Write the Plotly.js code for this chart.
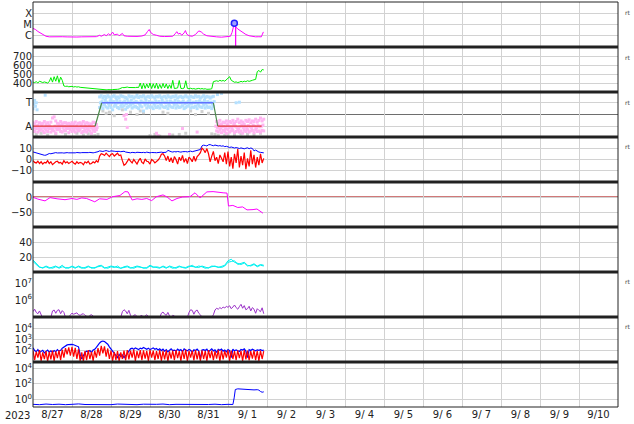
<!DOCTYPE html>
<html><head><meta charset="utf-8">
<script src="https://cdn.plot.ly/plotly-3.0.1.min.js"></script>
<style>html,body{margin:0;padding:0;background:#fff}#chart{width:634px;height:424px}</style>
</head><body><div id="chart"></div>
<script>
// ---------- time bases (hours after 2023-08-27 00:00 UT) ----------
const hours = [0,1,2,3,4,5,6,7,8,9,10,11,12,13,14,15,16,17,18,19,20,21,22,23,24,25,26,27,28,29,30,31,32,33,34,35,36,37,38,39,40,41,42,43,44,45,46,47,48,49,50,51,52,53,54,55,56,57,58,59,60,61,62,63,64,65,66,67,68,69,70,71,72,73,74,75,76,77,78,79,80,81,82,83,84,85,86,87,88,89,90,91,92,93,94,95,96,97,98,99,100,101,102,103,104,105,106,107,108,109,110,111,112,113,114,115,116,117,118,119,120,121,122,123,124,125,126,127,128,129,130,131,132,133,134,135,136,137,138,139,140,141,142];
const hours2 = [0,2,4,6,8,10,12,14,16,18,20,22,24,26,28,30,32,34,36,38,40,42,44,46,48,50,52,54,56,58,60,62,64,66,68,70,72,74,76,78,80,82,84,86,88,90,92,94,96,98,100,102,104,106,108,110,112,114,116,118,120,122,124,126,128,130,132,134,136,138,140,142];

// ---------- axis labels ----------
const xrayTickVals = [1e-6,1e-5,1e-4];
const xrayTickText = ['C','M','X'];
const sectorTickText = ['A','T'];
const dayTickFormat = '%-m/%e';
const yearLabel = '2023';
const sideLabel = 'rt';

// ---------- panel 1: X-ray flux ----------
const xrH = [0,1.5,3,4.5,6,8,10,12,15,18,21,24,27,30,33,36,39,41,42,44,45,46.5,47.5,49,50,52,53,55,56,58,61,64,67,69,70.5,71.5,72.5,74,76,78,81,84,86,87.5,88.5,89.5,90.5,91.5,93,93.8,94.6,96,98,100,102,103.5,105,107,110,113,116,119,121.5,122.5,123.3,123.9,124.6,124.7,124.8,126,127.5,129,131,133,135,137,139,140.5,141.2,141.8];
const xrV = [4.5e-6,3.6e-6,2.4e-6,1.7e-6,1.2e-6,9e-7,8e-7,8.3e-7,7.8e-7,8.2e-7,7.9e-7,8.4e-7,7.7e-7,8e-7,8.5e-7,7.9e-7,8.3e-7,1.1e-6,9e-7,1.3e-6,1.0e-6,1.5e-6,1.1e-6,2.1e-6,1.2e-6,1.4e-6,1.0e-6,1.6e-6,1.0e-6,9e-7,8.5e-7,8.7e-7,9.5e-7,1.2e-6,2.4e-6,3.6e-6,1.9e-6,1.3e-6,1.1e-6,9e-7,8.5e-7,8.3e-7,9e-7,1.5e-6,2.3e-6,1.4e-6,1.7e-6,1.1e-6,1.8e-6,2.9e-6,1.4e-6,1.0e-6,9e-7,1.3e-6,2.7e-6,2.2e-6,1.4e-6,1.0e-6,8.5e-7,8e-7,7.5e-7,7.8e-7,9e-7,2e-6,6e-6,1.26e-5,1.1e-5,3e-8,6e-6,4e-6,2.8e-6,1.9e-6,1.3e-6,1.0e-6,8.5e-7,8e-7,8.2e-7,8e-7,1.4e-6,2.2e-6];
const flareH = [123.9];
const flareV = [1.26e-5];

// ---------- panel 2: solar wind speed ----------
const speed = [410,405,415,400,420,410,405,412,408,400,415,
 460,410,470,420,480,405,465,430,
 367,362,365,358,360,363,356,360,355,358,
 352,350,348,345,343,340,338,336,334,333,332,330,
 328,326,325,327,324,326,323,325,327,326,328,330,333,
 345,350,348,352,355,350,348,353,351,349,352,350,
 400,335,395,340,390,345,400,338,392,342,398,336,385,340,395,345,390,338,380,
 340,430,338,342,345,428,340,338,344,425,340,336,342,
 335,338,332,336,340,334,338,333,336,330,335,332,336,
 415,420,425,418,430,422,428,420,435,
 445,470,430,
 415,408,412,405,410,418,412,420,415,425,418,428,430,436,440,
 526,540,520,550,545];

// ---------- panel 3: IMF sector (T = +1, A = -1) ----------
const lbHours = [41,42,43,44,45,46,47,48,49,50,51,52,53,54,55,56,57,58,59,60,61,62,63,64,65,66,67,68,69,70,71,72,73,74,75,76,77,78,79,80,81,82,83,84,85,86,87,88,89,90,91,92,93,94,95,96,97,98,99,100,101,102,103,104,105,106,107,108,109,110,111];
const lbMidHours = [41.5,42.5,43.5,44.5,45.5,46.5,47.5,48.5,49.5,50.5,51.5,52.5,53.5,54.5,55.5,56.5,57.5,58.5,59.5,60.5,61.5,62.5,63.5,64.5,65.5,66.5,67.5,68.5,69.5,70.5,71.5,72.5,73.5,74.5,75.5,76.5,77.5,78.5,79.5,80.5,81.5,82.5,83.5,84.5,85.5,86.5,87.5,88.5,89.5,90.5,91.5,92.5,93.5,94.5,95.5,96.5,97.5,98.5,99.5,100.5,101.5,102.5,103.5,104.5,105.5,106.5,107.5,108.5,109.5,110.5,111.5];
const lbUp = [1.5,1.6,1.4,1.55,1.45,1.6,1.5,1.35,1.55,1.6,1.45,1.5,1.4,1.6,1.55,1.5,1.45,1.35,1.6,1.5,1.55,1.4,1.5,1.65,1.45,1.55,1.5,1.6,1.4,1.5,1.55,1.45,1.6,1.5,1.4,1.55,1.5,1.6,1.45,1.5,1.55,1.4,1.6,1.5,1.45,1.55,1.5,1.6,1.4,1.5,1.55,1.45,1.5,1.6,1.5,1.4,1.55,1.5,1.45,1.6,1.5,1.55,1.4,1.5,1.6,1.45,1.55,1.5,1.4,1.5,1.55];
const lbMid = [1.0,1.1,0.9,1.2,1.05,0.95,1.15,1.0,1.1,0.9,1.2,1.0,1.1,0.95,1.05,1.15,0.9,1.1,1.0,1.2,0.95,1.05,1.1,1.0,0.9,1.15,1.05,1.0,1.2,0.95,1.1,1.0,1.05,0.9,1.15,1.0,1.1,0.95,1.2,1.05,1.0,1.1,0.9,1.15,1.05,1.0,1.2,0.95,1.1,1.0,1.05,1.15,0.9,1.0,1.1,1.2,0.95,1.05,1.0,1.1,0.9,1.15,1.05,1.0,1.2,0.95,1.1,1.0,1.05,0.9,1.1];
const lbLo = [0.6,0.7,0.5,0.8,0.65,0.55,0.75,0.6,0.4,0.7,0.8,0.6,0.5,0.7,0.65,0.75,0.45,0.6,0.7,0.8,0.55,0.65,0.7,0.6,0.5,0.75,0.65,0.3,0.8,0.55,0.7,0.6,0.65,0.5,0.75,0.6,0.7,0.55,0.8,0.65,0.6,0.7,0.5,0.75,0.65,0.6,0.8,0.55,0.7,0.6,0.65,0.75,0.5,0.6,0.7,0.8,0.55,0.65,0.6,0.7,0.5,0.75,0.65,0.6,0.8,0.55,0.7,0.6,0.65,0.5,0.7];
const lbExtraH = [0,0.5,1,1.5,2,2.5,7.5,113.5,116,125,127];
const lbExtraV = [0.5,0.9,1.2,0.7,1.0,0.4,1.65,1.7,1.8,1.0,1.05];
const pk1Hours = [0,1,2,3,4,5,6,7,8,9,10,11,12,13,14,15,16,17,18,19,20,21,22,23,24,25,26,27,28,29,30,31,32,33,34,35,36,37,38,39];
const pk1MidHours = [0.5,1.5,2.5,3.5,4.5,5.5,6.5,7.5,8.5,9.5,10.5,11.5,12.5,13.5,14.5,15.5,16.5,17.5,18.5,19.5,20.5,21.5,22.5,23.5,24.5,25.5,26.5,27.5,28.5,29.5,30.5,31.5,32.5,33.5,34.5,35.5,36.5,37.5,38.5,39.5];
const pk1Up = [-0.7,-0.8,-0.6,-0.9,-0.7,-0.8,-0.75,-0.6,-0.85,-0.7,-0.9,-0.65,-0.3,-0.2,-0.55,-0.75,-0.85,-0.6,-0.8,-0.7,-0.7,-0.8,-0.75,-0.85,-0.7,-0.8,-0.65,-0.9,-0.75,-0.7,-0.8,-0.6,-0.85,-0.7,-0.75,-0.9,-0.8,-0.65,-0.7,-0.85];
const pk1Mid = [-1.05,-1.15,-1.0,-1.2,-1.1,-0.95,-1.1,-1.2,-1.0,-1.15,-1.05,-1.2,-1.1,-1.0,-1.15,-1.05,-1.2,-0.95,-1.1,-1.0,-1.15,-1.05,-1.2,-1.1,-1.0,-1.15,-1.05,-1.1,-1.2,-1.0,-1.1,-1.15,-1.05,-1.2,-1.0,-1.1,-1.15,-1.05,-1.2,-1.1];
const pk1Lo = [-1.3,-1.45,-1.2,-1.5,-1.35,-1.25,-1.4,-1.55,-1.3,-1.45,-1.2,-1.5,-1.35,-1.4,-1.6,-1.3,-1.25,-1.45,-1.5,-1.35,-1.4,-1.2,-1.55,-1.3,-1.45,-1.35,-1.5,-1.25,-1.4,-1.3,-1.55,-1.45,-1.35,-1.5,-1.3,-1.4,-1.6,-1.35,-1.45,-1.3];
const pk2Hours = [113,114,115,116,117,118,119,120,121,122,123,124,125,126,127,128,129,130,131,132,133,134,135,136,137,138,139,140,141,142];
const pk2MidHours = [112.5,113.5,114.5,115.5,116.5,117.5,118.5,119.5,120.5,121.5,122.5,123.5,124.5,125.5,126.5,127.5,128.5,129.5,130.5,131.5,132.5,133.5,134.5,135.5,136.5,137.5,138.5,139.5,140.5,141.5];
const pk2Up = [-0.6,-0.75,-0.5,-0.8,-0.65,-0.7,-0.55,-0.8,-0.6,-0.7,-0.5,-0.75,-0.6,-0.4,-0.7,-0.55,-0.65,-0.8,-0.5,-0.6,-0.45,-0.7,-0.55,-0.6,-0.4,-0.65,-0.5,-0.3,-0.55,-0.4];
const pk2Mid = [-1.0,-1.1,-0.95,-1.15,-1.05,-1.0,-1.2,-0.9,-1.1,-1.05,-1.15,-0.95,-1.0,-1.1,-1.2,-1.05,-0.9,-1.1,-1.0,-1.15,-0.95,-1.05,-1.1,-0.9,-1.0,-1.15,-0.95,-1.05,-1.0,-0.9];
const pk2Lo = [-1.4,-1.5,-1.3,-1.55,-1.35,-1.45,-1.6,-1.3,-1.5,-1.4,-1.35,-1.55,-1.45,-1.3,-1.5,-1.4,-1.6,-1.35,-1.45,-1.3,-1.5,-1.4,-1.35,-1.55,-1.3,-1.45,-1.4,-1.5,-1.35,-1.4];
const pkExtraH = [56,57,57.5,58,76,77,84,92,101];
const pkExtraV = [-0.1,-0.4,0.0,-1.1,-1.6,-1.8,-1.7,-1.2,-1.5];
const grH = [2,5,9,14,20,27,31,34,36,38,40,43,45,47,50,55,60,64,66,68,72,75,78,80,83,86,90,94,97,100,104,108,110,112,114,118,120,124,128,132,136,140];
const grV = [-1.7,-1.6,-1.75,-1.65,-1.7,-1.6,-1.75,-1.65,-1.7,-1.8,-1.7,0.3,0.1,0.2,-0.1,0.4,0.2,0.0,0.3,0.15,-1.8,-1.7,-1.85,0.2,0.1,-1.75,-1.7,-1.6,0.3,0.0,0.25,0.1,-1.65,-1.7,-1.8,-1.75,-1.7,-1.8,-1.65,-1.7,-1.75,-1.6];
const sectorH = [0,38.2,42.3,111,113.7,140.7];
const sectorV = [-1,-1,1,1,-1,-1];

// ---------- panel 4: IMF Bt (blue) and Bz (red), nT ----------
const bt = [6.6,6.2,5.5,5.2,5.0,4.5,4.0,3.7,3.8,4.5,5.2,5.0,5.4,
 5.8,6.0,5.7,5.9,6.1,5.8,5.6,5.9,6.0,5.8,5.7,6.0,5.9,5.8,6.1,5.7,5.8,6.0,5.9,5.6,5.8,6.0,6.2,5.9,5.8,6.1,6.3,6.8,
 7.5,7.2,7.0,7.4,7.8,7.3,7.0,7.5,7.6,7.2,7.0,7.3,7.1,6.8,7.0,7.2,6.5,6.2,
 6.0,5.8,6.2,6.0,5.9,6.3,6.1,5.8,6.0,6.2,5.9,6.4,6.0,5.8,6.1,6.3,6.0,5.9,6.2,6.0,6.4,6.1,6.5,6.3,
 8.0,7.2,6.8,6.5,6.9,6.6,7.0,6.7,6.4,6.8,7.1,6.9,6.6,7.0,7.3,6.8,7.2,7.5,7.8,8.2,8.7,
 11.9,12.5,12.2,11.8,12.8,13.0,12.4,12.0,12.6,12.2,11.8,12.1,11.6,11.9,11.2,11.5,
 10.8,10.5,10.9,10.2,10.0,10.4,9.8,9.6,10.1,9.5,9.3,9.8,10.2,9.4,10.0,9.6,
 7.5,8.2,7.0,6.5,6.2,6.0,5.8];
const bz = [-1.0,-2.5,-3.0,-1.5,-3.5,-2.0,-4.0,-2.5,-3.0,-1.0,-3.5,-2.0,-4.5,-3.0,-2.0,-1.5,-3.0,-2.5,-4.0,-1.0,-3.0,-2.0,-3.5,-2.5,-1.5,-3.0,-4.0,-2.0,-3.5,-2.5,-3.0,-4.5,-2.0,-3.0,-1.5,-4.0,-3.5,-2.0,-3.0,-1.0,-2.5,
 3.0,5.0,4.5,3.5,5.5,4.0,2.5,4.5,5.0,3.0,4.0,5.5,3.5,4.0,
 -1.0,-5.0,-4.0,-2.0,
 0.5,-1.5,-3.0,0.0,-2.0,-4.0,-1.0,1.0,-2.5,-3.5,0.5,-1.5,-2.0,-4.0,0.0,-1.0,-3.0,-2.0,-0.5,1.5,
 4.5,5.0,3.0,-1.0,
 3.0,-2.0,1.5,-3.0,2.5,0.0,-4.0,2.0,-1.0,3.5,-2.5,1.0,-3.5,2.0,0.5,-2.0,3.0,-1.5,2.5,4.0,6.0,
 10.0,8.5,6.0,9.5,
 5.0,-2.0,3.0,7.0,-1.0,2.0,-3.5,4.0,1.0,-2.0,6.0,-4.0,
 7.0,-6.0,2.0,-8.0,5.0,-3.0,9.0,-7.0,3.0,-5.0,6.0,-8.5,1.0,-6.0,8.0,-4.0,4.0,-7.0,2.0,-5.0,5.0,-3.0,1.0];

// ---------- panel 5: Dst (nT) ----------
const dstH = [0,3,7.4,10.5,14.8,19.7,24,27,30,33,38,41,45.5,49,53.5,56.6,58.5,61,64,67,70,73,76,80,82.5,85.5,88.6,92,96.6,99.7,102.8,107,110.8,114,117,119.4,120.3,123,126,129,131.7,135.4,137.8,139.7,141.5];
const dstV = [-1,-7,-13,-2,-6,-9,-5,-8,-3,-5,-16,-6,-8,1,5,18,17,-10,-6,-8,-5,-12,1,7,0,-13,-5,0,1,14,-3,17,18,15,14,13,-30,-28,-35,-33,-43,-42,-40,-47,-54];

// ---------- panel 6: density (two records) ----------
const densA = [16,12,7,5,8,6,5,7,6,9,5,6,7,5,8,6,5,7,6,5,8,9,6,5,7,6,8,5,6,7,5,6,8,7,5,6,9,7,6,5,8,6,7,5,6,8,6,5,7,9,6,8,7,5,6,7,8,6,7,9,15,17,13,12,10,12,8,9,11,8,10,9];
const densB = [14,10,6,6,7,5,6,8,5,7,6,5,8,6,7,5,6,8,5,6,7,8,5,6,8,7,6,5,7,8,6,5,7,6,6,5,8,6,7,6,7,5,8,6,5,7,7,6,8,7,7,6,8,6,5,8,7,7,6,8,13,14,15,10,11,13,9,8,10,7,9,8];

// ---------- panel 7: electron flux ----------
const elec = [2.0e5,2.8e5,1.8e5,1.5e5,2.2e5,1.3e5,8e4,
 7e4,6e4,8e4,7e4,9e4,
 2.2e5,2.5e5,1.6e5,2.4e5,2.6e5,1.5e5,2.3e5,1.8e5,9e4,
 8e4,9e4,
 1.3e5,1.6e5,1.4e5,1.5e5,1.7e5,1.3e5,1.2e5,1.4e5,1.5e5,1.2e5,1.1e5,
 9e4,1.2e5,1.3e5,1.1e5,8e4,9e4,7e4,8e4,
 7e4,6e4,8e4,7e4,6e4,7e4,8e4,6e4,7e4,8e4,7e4,6e4,9e4,
 2.0e5,2.6e5,2.2e5,1.5e5,2.4e5,1.2e5,
 9e4,1.2e5,1.3e5,1.0e5,8e4,1.1e5,1.2e5,9e4,1.1e5,1.3e5,1.0e5,8e4,7e4,6e4,
 7e4,6e4,8e4,9e4,
 1.6e5,1.9e5,1.4e5,1.2e5,1.8e5,1.1e5,9e4,1.2e5,
 1.1e5,8e4,7e4,6e4,7e4,8e4,6e4,7e4,9e4,
 1.8e5,2.6e5,2.4e5,1.4e5,2.2e5,2.5e5,1.6e5,1.3e5,9e4,
 8e4,7e4,6e4,7e4,8e4,9e4,
 1.3e5,2.5e5,3.2e5,2.8e5,3.5e5,3.0e5,3.8e5,3.3e5,4.2e5,3.6e5,4.5e5,3.0e5,3.8e5,5.0e5,3.5e5,2.8e5,4.0e5,5.5e5,3.2e5,4.6e5,2.6e5,3.0e5,4.2e5,2.2e5,3.5e5,2.8e5,1.6e5,3.0e5,2.4e5,2.0e5,3.4e5,1.5e5];

// ---------- panel 8: proton flux (blue, red) ----------
const protBlue = [160,90,70,110,60,80,95,55,75,100,65,
 85,60,90,70,110,80,95,
 150,200,250,300,320,340,330,310,280,250,200,
 40,15,30,
 60,80,70,90,60,100,120,180,
 300,450,600,680,620,500,350,
 200,120,80,50,
 30,20,40,25,35,20,30,50,
 100,130,150,120,160,140,110,150,130,170,140,120,150,110,130,160,120,140,100,130,
 90,120,80,110,70,100,130,90,
 100,80,120,90,110,70,130,100,85,115,95,60,105,90,120,80,15,100,
 110,90,120,70,100,130,85,105,60,115,95,125,80,100,70,110,90,20,120,85,105,95,75,115,100,130,80,20,110,90,120,100,85,105,95,110,90,100];
const protRed = [90,12,70,20,100,10,60,15,80,9,70,
 14,90,10,75,18,95,12,
 110,20,150,40,180,30,200,25,160,15,120,
 10,60,9,
 80,12,100,15,70,10,90,20,
 150,30,250,50,220,25,140,
 15,90,10,70,
 12,80,9,60,15,90,11,100,
 14,90,20,110,10,80,18,100,12,95,16,85,10,105,20,90,12,80,15,100,
 10,85,14,95,9,75,16,90,
 12,100,18,80,10,95,15,110,9,85,20,90,11,100,14,80,10,95,
 15,85,10,100,18,90,12,80,16,105,9,95,14,85,20,100,10,90,15,80,12,95,18,85,10,100,14,90,11,80,16,95,12,85,10,90,15,80];

// ---------- panel 9: high-energy flux ----------
const hiH = [0,4,8,12,16,20,24,28,32,36,40,44,48,52,56,60,64,68,72,76,80,84,88,92,96,100,104,108,112,116,120,123,123.8,124.5,126,128,130,132,134,136,138,139,140,141,142];
const hiV = [0.22,0.2,0.24,0.21,0.23,0.2,0.22,0.25,0.21,0.2,0.23,0.22,0.2,0.24,0.21,0.22,0.2,0.23,0.21,0.22,0.24,0.2,0.22,0.21,0.23,0.2,0.22,0.21,0.23,0.2,0.22,0.21,1.5,18,22,20,19,17,18,16,17,15,10,8,9];

// ================= build =================
const T0 = Date.UTC(2023, 7, 27);
const X = hs => hs.map(h => T0 + h * 3600000);
const base = {mode:'lines', hoverinfo:'skip', showlegend:false};
const L = (hs, ys, ax, color, width, extra) => Object.assign({}, base, {x:X(hs), y:ys, yaxis:ax, line:{color:color, width:width}}, extra||{});
const M = (hs, ys, ax, color, size) => Object.assign({}, base, {mode:'markers', x:X(hs), y:ys, yaxis:ax, marker:{color:color, size:size, symbol:'square', line:{width:0}}});

const LB = '#b4e0ff', PK = '#ffb4f0', GR = '#d0d0d0';
const traces = [
  L(xrH, xrV, 'y', '#ff00ff', 1),
  Object.assign({}, base, {mode:'markers', x:X(flareH), y:flareV, yaxis:'y', marker:{symbol:'circle', size:6, color:'#a0a0ff', line:{color:'#2020ff', width:1.5}}}),
  L(hours, speed, 'y2', '#00ee00', 1),
  M(grH, grV, 'y3', GR, 3),
  M(lbHours, lbUp, 'y3', LB, 3), M(lbMidHours, lbMid, 'y3', LB, 3), M(lbHours, lbLo, 'y3', LB, 3),
  M(lbExtraH, lbExtraV, 'y3', LB, 3),
  M(pk1Hours, pk1Up, 'y3', PK, 3), M(pk1MidHours, pk1Mid, 'y3', PK, 3), M(pk1Hours, pk1Lo, 'y3', PK, 3),
  M(pk2Hours, pk2Up, 'y3', PK, 3), M(pk2MidHours, pk2Mid, 'y3', PK, 3), M(pk2Hours, pk2Lo, 'y3', PK, 3),
  M(pkExtraH, pkExtraV, 'y3', PK, 3),
  L(sectorH.slice(0,2), sectorV.slice(0,2), 'y3', '#e03030', 1.2),
  L(sectorH.slice(1,3), sectorV.slice(1,3), 'y3', '#4a8a4a', 1.2),
  L(sectorH.slice(2,4), sectorV.slice(2,4), 'y3', '#6070ff', 1.5),
  L(sectorH.slice(3,5), sectorV.slice(3,5), 'y3', '#4a8a4a', 1.2),
  L(sectorH.slice(4,6), sectorV.slice(4,6), 'y3', '#e03030', 1.2),
  L(hours, bt, 'y4', '#0000ff', 1),
  L(hours, bz, 'y4', '#ff0000', 1.2),
  L(dstH, dstV, 'y5', '#ff00ff', 1),
  L(hours2, densA, 'y6', '#00f0f0', 1),
  L(hours2, densB, 'y6', '#00f0f0', 1),
  L(hours, elec, 'y7', '#9a30c8', 1),
  L(hours, protBlue, 'y8', '#0000ff', 1.2),
  L(hours, protRed, 'y8', '#ff0000', 1.2),
  L(hiH, hiV, 'y9', '#0000ff', 1)
];

const FONT = {family:'DejaVu Sans', size:10, color:'#222'};
const dom = k => [1 - k/9, 1 - (k-1)/9];
const yBase = {anchor:'x', showgrid:true, gridcolor:'#d2d2d2', gridwidth:1, zeroline:false, showline:false,
  ticks:'', tickfont:FONT, tickmode:'array', fixedrange:true};
const sup = n => '10<sup>' + n + '</sup>';
const Y = (k, o) => Object.assign({}, yBase, {domain:dom(k)}, o);

const layout = {
  width:634, height:424,
  margin:{l:33, r:16, t:2, b:17},
  paper_bgcolor:'#fff', plot_bgcolor:'#fff',
  font:FONT, showlegend:false,
  xaxis:{type:'date', anchor:'y9', range:['2023-08-27','2023-09-11'], tick0:'2023-08-27', dtick:86400000,
    ticklabelmode:'period', tickformat:dayTickFormat, showgrid:true, gridcolor:'#d2d2d2', gridwidth:1,
    zeroline:false, showline:false, ticks:'', tickfont:FONT, fixedrange:true},
  yaxis:  Y(1, {type:'log', range:[-7,-3], tickvals:xrayTickVals, ticktext:xrayTickText}),
  yaxis2: Y(2, {range:[300,800], tickvals:[400,500,600,700]}),
  yaxis3: Y(3, {range:[-1.92,1.92], tickvals:[-1,1], ticktext:sectorTickText}),
  yaxis4: Y(4, {range:[-19.6,19.6], tickvals:[-10,0,10]}),
  yaxis5: Y(5, {range:[-100,50], tickvals:[-50,0]}),
  yaxis6: Y(6, {range:[0,60], tickvals:[20,40]}),
  yaxis7: Y(7, {type:'log', range:[4.98,7.68], tickvals:[1e6,1e7], ticktext:[sup(6),sup(7)], showgrid:false}),
  yaxis8: Y(8, {type:'log', range:[0.9,5.05], tickvals:[1e2,1e3,1e4], ticktext:[sup(2),sup(3),sup(4)]}),
  yaxis9: Y(9, {type:'log', range:[-1,4.8], tickvals:[1,1e2,1e4], ticktext:[sup(0),sup(2),sup(4)]}),
  shapes:[],
  annotations:[]
};

// reference lines
const hline = (yref, y, color, width, dash, layer) => ({type:'line', xref:'paper', x0:0, x1:1, yref:yref, y0:y, y1:y, layer:layer||'above', line:{color:color, width:width, dash:dash||'solid'}});
layout.shapes.push(hline('y3', 0, '#6e6e6e', 1, 'solid', 'below'));
layout.shapes.push(hline('y4', 0, '#a00000', 1, 'solid', 'below'));
layout.shapes.push(hline('y5', 0, '#d07878', 2, 'solid', 'below'));
layout.shapes.push(hline('y7', 6, '#c80000', 1));
layout.shapes.push(hline('y7', 7, '#c80000', 1));
layout.shapes.push(hline('y8', 4, '#e03a3a', 1.5, '8px,5px'));
// panel separators and frame
for (let k = 1; k <= 8; k++) {
  layout.shapes.push({type:'line', xref:'paper', yref:'paper', x0:0, x1:1, y0:k/9, y1:k/9, line:{color:'#222', width:3}});
}
layout.shapes.push({type:'rect', xref:'paper', yref:'paper', x0:0, x1:1, y0:0, y1:1, line:{color:'#222', width:1}});

// side labels
[0.975, 0.864, 0.753, 0.642, 0.309, 0.198].forEach(y => layout.annotations.push({
  xref:'paper', yref:'paper', x:1.009, y:y, xanchor:'left', yanchor:'middle', text:sideLabel, showarrow:false,
  font:{family:'DejaVu Sans', size:6, color:'#444'}}));
layout.annotations.push({xref:'paper', yref:'paper', x:-0.026, y:-0.022, xanchor:'center', yanchor:'middle',
  text:yearLabel, showarrow:false, font:FONT});

Plotly.newPlot('chart', traces, layout, {staticPlot:true, displayModeBar:false});
</script>
</body></html>
